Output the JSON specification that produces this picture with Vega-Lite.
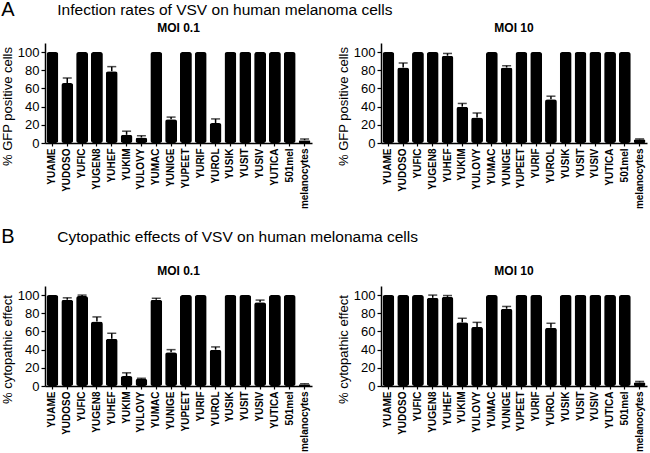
{
  "$schema": "https://vega.github.io/schema/vega-lite/v6.json",
  "padding": {"left": 1, "top": 0, "right": 1, "bottom": 0},
  "background": "white",
  "datasets": {
    "d": [
      {"p":"A01","line":"YUAME","v":100,"hi":null},
      {"p":"A01","line":"YUDOSO","v":66,"hi":71.5},
      {"p":"A01","line":"YUFIC","v":100,"hi":null},
      {"p":"A01","line":"YUGEN8","v":100,"hi":null},
      {"p":"A01","line":"YUHEF","v":79,"hi":84},
      {"p":"A01","line":"YUKIM","v":9,"hi":13},
      {"p":"A01","line":"YULOVY","v":6,"hi":8},
      {"p":"A01","line":"YUMAC","v":100,"hi":null},
      {"p":"A01","line":"YUNIGE","v":26,"hi":28.5},
      {"p":"A01","line":"YUPEET","v":100,"hi":null},
      {"p":"A01","line":"YURIF","v":100,"hi":null},
      {"p":"A01","line":"YUROL","v":22,"hi":26.5},
      {"p":"A01","line":"YUSIK","v":100,"hi":null},
      {"p":"A01","line":"YUSIT","v":100,"hi":null},
      {"p":"A01","line":"YUSIV","v":100,"hi":null},
      {"p":"A01","line":"YUTICA","v":100,"hi":null},
      {"p":"A01","line":"501mel","v":100,"hi":null},
      {"p":"A01","line":"melanocytes","v":3,"hi":4.5},
      {"p":"A10","line":"YUAME","v":100,"hi":null},
      {"p":"A10","line":"YUDOSO","v":83,"hi":88},
      {"p":"A10","line":"YUFIC","v":100,"hi":null},
      {"p":"A10","line":"YUGEN8","v":100,"hi":null},
      {"p":"A10","line":"YUHEF","v":96,"hi":98.5},
      {"p":"A10","line":"YUKIM","v":40,"hi":43.5},
      {"p":"A10","line":"YULOVY","v":28,"hi":33},
      {"p":"A10","line":"YUMAC","v":100,"hi":null},
      {"p":"A10","line":"YUNIGE","v":83,"hi":85},
      {"p":"A10","line":"YUPEET","v":100,"hi":null},
      {"p":"A10","line":"YURIF","v":100,"hi":null},
      {"p":"A10","line":"YUROL","v":48,"hi":51.5},
      {"p":"A10","line":"YUSIK","v":100,"hi":null},
      {"p":"A10","line":"YUSIT","v":100,"hi":null},
      {"p":"A10","line":"YUSIV","v":100,"hi":null},
      {"p":"A10","line":"YUTICA","v":100,"hi":null},
      {"p":"A10","line":"501mel","v":100,"hi":null},
      {"p":"A10","line":"melanocytes","v":4,"hi":4.5},
      {"p":"B01","line":"YUAME","v":100,"hi":null},
      {"p":"B01","line":"YUDOSO","v":95,"hi":97},
      {"p":"B01","line":"YUFIC","v":99,"hi":100},
      {"p":"B01","line":"YUGEN8","v":71,"hi":76},
      {"p":"B01","line":"YUHEF","v":52,"hi":58},
      {"p":"B01","line":"YUKIM","v":11,"hi":14.5},
      {"p":"B01","line":"YULOVY","v":8,"hi":8.5},
      {"p":"B01","line":"YUMAC","v":95,"hi":96.5},
      {"p":"B01","line":"YUNIGE","v":37,"hi":40},
      {"p":"B01","line":"YUPEET","v":100,"hi":null},
      {"p":"B01","line":"YURIF","v":100,"hi":null},
      {"p":"B01","line":"YUROL","v":40,"hi":43},
      {"p":"B01","line":"YUSIK","v":100,"hi":null},
      {"p":"B01","line":"YUSIT","v":100,"hi":null},
      {"p":"B01","line":"YUSIV","v":92,"hi":94.5},
      {"p":"B01","line":"YUTICA","v":100,"hi":null},
      {"p":"B01","line":"501mel","v":100,"hi":null},
      {"p":"B01","line":"melanocytes","v":2,"hi":2.5},
      {"p":"B10","line":"YUAME","v":100,"hi":null},
      {"p":"B10","line":"YUDOSO","v":100,"hi":null},
      {"p":"B10","line":"YUFIC","v":100,"hi":null},
      {"p":"B10","line":"YUGEN8","v":97,"hi":100},
      {"p":"B10","line":"YUHEF","v":98,"hi":99.5},
      {"p":"B10","line":"YUKIM","v":70,"hi":74.5},
      {"p":"B10","line":"YULOVY","v":65,"hi":70},
      {"p":"B10","line":"YUMAC","v":100,"hi":null},
      {"p":"B10","line":"YUNIGE","v":85,"hi":87.5},
      {"p":"B10","line":"YUPEET","v":100,"hi":null},
      {"p":"B10","line":"YURIF","v":100,"hi":null},
      {"p":"B10","line":"YUROL","v":64,"hi":69},
      {"p":"B10","line":"YUSIK","v":100,"hi":null},
      {"p":"B10","line":"YUSIT","v":100,"hi":null},
      {"p":"B10","line":"YUSIV","v":100,"hi":null},
      {"p":"B10","line":"YUTICA","v":100,"hi":null},
      {"p":"B10","line":"501mel","v":100,"hi":null},
      {"p":"B10","line":"melanocytes","v":4,"hi":5}
    ]
  },
  "spacing": 18,
  "vconcat": [
    {
      "title": {"text": "A", "subtitle": "\u200b\u00a0\u00a0\u00a0\u00a0\u00a0\u00a0\u00a0\u00a0\u00a0\u00a0\u00a0\u00a0\u00a0Infection rates of VSV on human melanoma cells", "anchor": "start", "fontSize": 20, "fontWeight": "normal", "subtitleFontSize": 15.5, "subtitleColor": "#000", "subtitlePadding": -17, "offset": 2},
      "spacing": 25,
      "hconcat": [
        {
          "width": 267, "height": 100,
          "title": {"text": "MOI 0.1"},
          "data": {"name": "d"},
          "transform": [{"filter": "datum.p === 'A01'"}],
          "encoding": {"x": {"field": "line", "type": "nominal", "sort": ["YUAME","YUDOSO","YUFIC","YUGEN8","YUHEF","YUKIM","YULOVY","YUMAC","YUNIGE","YUPEET","YURIF","YUROL","YUSIK","YUSIT","YUSIV","YUTICA","501mel","melanocytes"], "scale": {"paddingInner": 0.2, "paddingOuter": 0.1}, "title": null}},
          "layer": [
            {"mark": {"type": "bar", "color": "#000", "cornerRadius": 2.5}, "encoding": {"y": {"field": "v", "type": "quantitative", "title": "% GFP positive cells", "scale": {"domain": [0, 110]}, "axis": {"values": [0,20,40,60,80,100], "labelOverlap": false}}}},
            {"transform": [{"filter": "isValid(datum.hi)"}], "mark": {"type": "rule", "color": "#000", "strokeWidth": 1.5}, "encoding": {"y": {"field": "v", "type": "quantitative", "title": "% GFP positive cells", "axis": {"values": [0,20,40,60,80,100], "labelOverlap": false}}, "y2": {"field": "hi"}}},
            {"transform": [{"filter": "isValid(datum.hi)"}], "mark": {"type": "tick", "color": "#000", "thickness": 1.5, "size": 9}, "encoding": {"y": {"field": "hi", "type": "quantitative", "title": "% GFP positive cells", "axis": {"values": [0,20,40,60,80,100], "labelOverlap": false}}}}
          ]
        },
        {
          "width": 266, "height": 100,
          "title": {"text": "MOI 10"},
          "data": {"name": "d"},
          "transform": [{"filter": "datum.p === 'A10'"}],
          "encoding": {"x": {"field": "line", "type": "nominal", "sort": ["YUAME","YUDOSO","YUFIC","YUGEN8","YUHEF","YUKIM","YULOVY","YUMAC","YUNIGE","YUPEET","YURIF","YUROL","YUSIK","YUSIT","YUSIV","YUTICA","501mel","melanocytes"], "scale": {"paddingInner": 0.2, "paddingOuter": 0.1}, "title": null}},
          "layer": [
            {"mark": {"type": "bar", "color": "#000", "cornerRadius": 2.5}, "encoding": {"y": {"field": "v", "type": "quantitative", "title": "% GFP positive cells", "scale": {"domain": [0, 110]}, "axis": {"values": [0,20,40,60,80,100], "labelOverlap": false}}}},
            {"transform": [{"filter": "isValid(datum.hi)"}], "mark": {"type": "rule", "color": "#000", "strokeWidth": 1.5}, "encoding": {"y": {"field": "v", "type": "quantitative", "title": "% GFP positive cells", "axis": {"values": [0,20,40,60,80,100], "labelOverlap": false}}, "y2": {"field": "hi"}}},
            {"transform": [{"filter": "isValid(datum.hi)"}], "mark": {"type": "tick", "color": "#000", "thickness": 1.5, "size": 9}, "encoding": {"y": {"field": "hi", "type": "quantitative", "title": "% GFP positive cells", "axis": {"values": [0,20,40,60,80,100], "labelOverlap": false}}}}
          ]
        }
      ]
    },
    {
      "title": {"text": "B", "subtitle": "\u200b\u00a0\u00a0\u00a0\u00a0\u00a0\u00a0\u00a0\u00a0\u00a0\u00a0\u00a0\u00a0\u00a0Cytopathic effects of VSV on human melonama cells", "anchor": "start", "fontSize": 20, "fontWeight": "normal", "subtitleFontSize": 15.5, "subtitleColor": "#000", "subtitlePadding": -17, "offset": 18},
      "spacing": 25,
      "hconcat": [
        {
          "width": 267, "height": 100,
          "title": {"text": "MOI 0.1"},
          "data": {"name": "d"},
          "transform": [{"filter": "datum.p === 'B01'"}],
          "encoding": {"x": {"field": "line", "type": "nominal", "sort": ["YUAME","YUDOSO","YUFIC","YUGEN8","YUHEF","YUKIM","YULOVY","YUMAC","YUNIGE","YUPEET","YURIF","YUROL","YUSIK","YUSIT","YUSIV","YUTICA","501mel","melanocytes"], "scale": {"paddingInner": 0.2, "paddingOuter": 0.1}, "title": null}},
          "layer": [
            {"mark": {"type": "bar", "color": "#000", "cornerRadius": 2.5}, "encoding": {"y": {"field": "v", "type": "quantitative", "title": "% cytopathic effect", "scale": {"domain": [0, 110]}, "axis": {"values": [0,20,40,60,80,100], "labelOverlap": false}}}},
            {"transform": [{"filter": "isValid(datum.hi)"}], "mark": {"type": "rule", "color": "#000", "strokeWidth": 1.5}, "encoding": {"y": {"field": "v", "type": "quantitative", "title": "% cytopathic effect", "axis": {"values": [0,20,40,60,80,100], "labelOverlap": false}}, "y2": {"field": "hi"}}},
            {"transform": [{"filter": "isValid(datum.hi)"}], "mark": {"type": "tick", "color": "#000", "thickness": 1.5, "size": 9}, "encoding": {"y": {"field": "hi", "type": "quantitative", "title": "% cytopathic effect", "axis": {"values": [0,20,40,60,80,100], "labelOverlap": false}}}}
          ]
        },
        {
          "width": 266, "height": 100,
          "title": {"text": "MOI 10"},
          "data": {"name": "d"},
          "transform": [{"filter": "datum.p === 'B10'"}],
          "encoding": {"x": {"field": "line", "type": "nominal", "sort": ["YUAME","YUDOSO","YUFIC","YUGEN8","YUHEF","YUKIM","YULOVY","YUMAC","YUNIGE","YUPEET","YURIF","YUROL","YUSIK","YUSIT","YUSIV","YUTICA","501mel","melanocytes"], "scale": {"paddingInner": 0.2, "paddingOuter": 0.1}, "title": null}},
          "layer": [
            {"mark": {"type": "bar", "color": "#000", "cornerRadius": 2.5}, "encoding": {"y": {"field": "v", "type": "quantitative", "title": "% cytopathic effect", "scale": {"domain": [0, 110]}, "axis": {"values": [0,20,40,60,80,100], "labelOverlap": false}}}},
            {"transform": [{"filter": "isValid(datum.hi)"}], "mark": {"type": "rule", "color": "#000", "strokeWidth": 1.5}, "encoding": {"y": {"field": "v", "type": "quantitative", "title": "% cytopathic effect", "axis": {"values": [0,20,40,60,80,100], "labelOverlap": false}}, "y2": {"field": "hi"}}},
            {"transform": [{"filter": "isValid(datum.hi)"}], "mark": {"type": "tick", "color": "#000", "thickness": 1.5, "size": 9}, "encoding": {"y": {"field": "hi", "type": "quantitative", "title": "% cytopathic effect", "axis": {"values": [0,20,40,60,80,100], "labelOverlap": false}}}}
          ]
        }
      ]
    }
  ],
  "config": {
    "font": "Liberation Sans",
    "view": {"stroke": null},
    "axis": {"grid": false, "domainColor": "#000", "tickColor": "#000", "labelColor": "#000", "titleColor": "#000", "domainWidth": 1.5, "tickWidth": 1.2},
    "axisY": {"labelFontSize": 13, "labelOverlap": false, "titleFontSize": 13, "titleFontWeight": "normal", "titleY": 63, "tickSize": 4, "labelPadding": 2, "titlePadding": 3},
    "axisX": {"labelFontSize": 10, "labelFontWeight": "bold", "labelAngle": -90, "tickSize": 3, "labelPadding": 2},
    "title": {"fontSize": 12, "fontWeight": "bold", "color": "#000", "offset": 8}
  }
}
